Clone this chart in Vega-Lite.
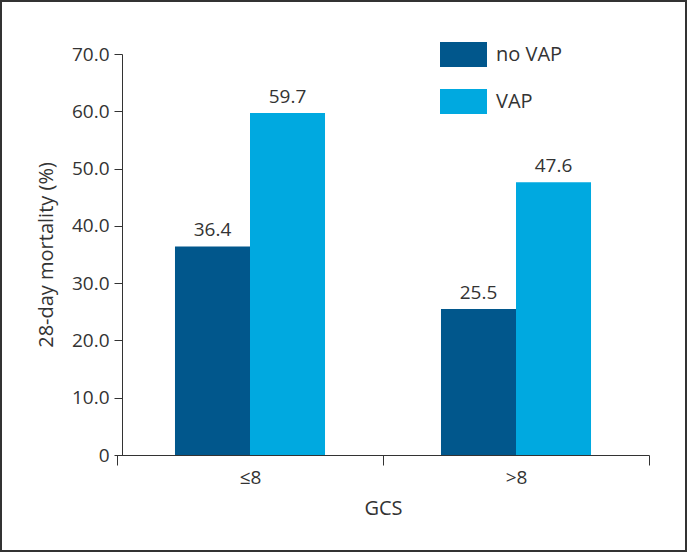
{
  "$schema": "https://vega.github.io/schema/vega-lite/v6.json",
  "width": 685,
  "height": 550,
  "padding": 1,
  "autosize": {"type": "none"},
  "background": "white",
  "config": {
    "view": {"stroke": "#333333", "strokeWidth": 2},
    "font": "Open Sans",
    "axis": {
      "labelColor": "#333333",
      "titleColor": "#333333",
      "domainColor": "#333333",
      "tickColor": "#333333",
      "labelFontSize": 19,
      "titleFontSize": 20,
      "titleFontWeight": "normal",
      "grid": false
    }
  },
  "data": {
    "values": [
      {"gcs": "≤8", "group": "no VAP", "value": 36.4},
      {"gcs": "≤8", "group": "VAP", "value": 59.7},
      {"gcs": ">8", "group": "no VAP", "value": 25.5},
      {"gcs": ">8", "group": "VAP", "value": 47.6}
    ]
  },
  "encoding": {
    "x": {
      "field": "gcs",
      "type": "nominal",
      "sort": ["≤8", ">8"],
      "scale": {"range": [116, 648], "paddingInner": 0, "paddingOuter": 0},
      "axis": {
        "title": "GCS",
        "offset": -96,
        "labelAngle": 0,
        "tickBand": "extent",
        "tickSize": 10,
        "labelPadding": 3,
        "titlePadding": 11
      }
    },
    "xOffset": {
      "field": "group",
      "sort": ["no VAP", "VAP"],
      "scale": {"paddingInner": 0, "paddingOuter": 0.773}
    },
    "y": {
      "field": "value",
      "type": "quantitative",
      "scale": {"domain": [0, 70], "range": [454, 53], "nice": false, "zero": true},
      "axis": {
        "title": "28-day mortality (%)",
        "offset": -121,
        "values": [0, 10, 20, 30, 40, 50, 60, 70],
        "labelExpr": "datum.value == 0 ? '0' : format(datum.value, '.1f')",
        "tickSize": 8,
        "labelPadding": 5,
        "titlePadding": 15
      }
    }
  },
  "layer": [
    {
      "mark": {"type": "bar"},
      "encoding": {
        "color": {
          "field": "group",
          "type": "nominal",
          "sort": ["no VAP", "VAP"],
          "scale": {"domain": ["no VAP", "VAP"], "range": ["#01578C", "#00A9E0"]},
          "legend": {
            "title": null,
            "orient": "none",
            "legendX": 439,
            "legendY": 30,
            "padding": 0,
            "symbolType": "M-1,-0.532H1V0.532H-1Z",
            "symbolSize": 2209,
            "symbolStrokeWidth": 0,
            "symbolOpacity": 1,
            "labelFontSize": 20,
            "labelColor": "#333333",
            "labelOffset": 9,
            "rowPadding": 10
          }
        }
      }
    },
    {
      "mark": {"type": "text", "dy": -10, "baseline": "alphabetic", "fontSize": 19, "color": "#333333"},
      "encoding": {
        "text": {"field": "value", "type": "quantitative", "format": ".1f"}
      }
    }
  ]
}
